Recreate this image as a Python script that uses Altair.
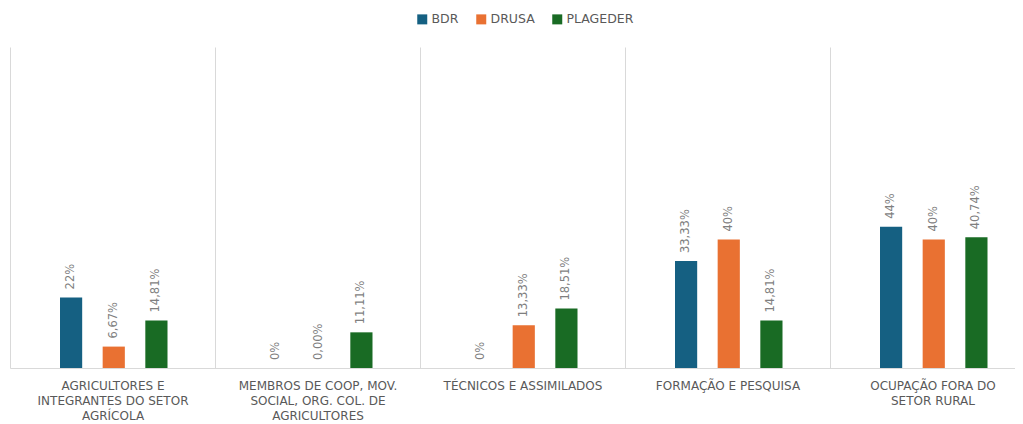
import altair as alt
import pandas as pd

categories = [
    "AGRICULTORES E\nINTEGRANTES DO SETOR\nAGRÍCOLA",
    "MEMBROS DE COOP, MOV.\nSOCIAL, ORG. COL. DE\nAGRICULTORES",
    "TÉCNICOS E ASSIMILADOS",
    "FORMAÇÃO E PESQUISA",
    "OCUPAÇÃO FORA DO\nSETOR RURAL",
]
series = ["BDR", "DRUSA", "PLAGEDER"]
bdr = [22, 0, 0, 33.33, 44]
drusa = [6.67, 0, 13.33, 40, 40]
plageder = [14.81, 11.11, 18.51, 14.81, 40.74]
bdr_labels = ["22%", "0%", "0%", "33,33%", "44%"]
drusa_labels = ["6,67%", "0,00%", "13,33%", "40%", "40%"]
plageder_labels = ["14,81%", "11,11%", "18,51%", "14,81%", "40,74%"]
colors = ["#156082", "#E97132", "#196B24"]

rows = []
for s, vals, labs in zip(series, [bdr, drusa, plageder], [bdr_labels, drusa_labels, plageder_labels]):
    for c, v, l in zip(categories, vals, labs):
        rows.append({"cat": c, "series": s, "value": v, "label": l})
df = pd.DataFrame(rows)

x_enc = alt.X(
    "cat:N",
    sort=categories,
    scale=alt.Scale(range=[0, 1025], paddingInner=0, paddingOuter=0),
    axis=alt.Axis(
        title=None,
        labelExpr="split(datum.label, '\\n')",
        labelAngle=0,
        tickBand="extent",
        grid=True,
        gridColor="#d9d9d9",
        domainColor="#d9d9d9",
        ticks=False,
        labelPadding=12,
        labelFont="DejaVu Sans",
        labelFontSize=12,
        labelColor="#595959",
        labelLineHeight=15,
        labelLimit=0,
        labelBaseline="top",
    ),
)
xoff_enc = alt.XOffset(
    "series:N",
    sort=series,
    scale=alt.Scale(range=[50, 157.5], paddingInner=0.48, paddingOuter=0),
)
y_enc = alt.Y("value:Q", scale=alt.Scale(domain=[0, 100]), axis=None)

base = alt.Chart(df).encode(x=x_enc, xOffset=xoff_enc, y=y_enc)

bars = base.mark_bar().encode(
    color=alt.Color(
        "series:N",
        sort=series,
        scale=alt.Scale(domain=series, range=colors),
        legend=alt.Legend(
            title=None,
            orient="none",
            direction="horizontal",
            legendX=406,
            legendY=-34,
            symbolType="square",
            symbolSize=100,
            symbolStrokeWidth=0,
            labelFont="DejaVu Sans",
            labelFontSize=12.5,
            labelColor="#595959",
            columnPadding=16,
            labelOffset=3,
            padding=0,
        ),
    )
)

text = base.mark_text(
    angle=270,
    align="left",
    baseline="middle",
    dx=8,
    font="DejaVu Sans",
    fontSize=11.5,
    color="#7f7f7f",
).encode(text="label:N")

chart = (
    alt.layer(bars, text)
    .properties(
        width=1005,
        height=321,
        autosize=alt.AutoSizeParams(type="none"),
        padding={"left": 2, "top": 39, "right": 0, "bottom": 56},
    )
    .configure_view(stroke=None)
)

chart.save("out.html", embed_options={"renderer": "svg", "actions": False})
